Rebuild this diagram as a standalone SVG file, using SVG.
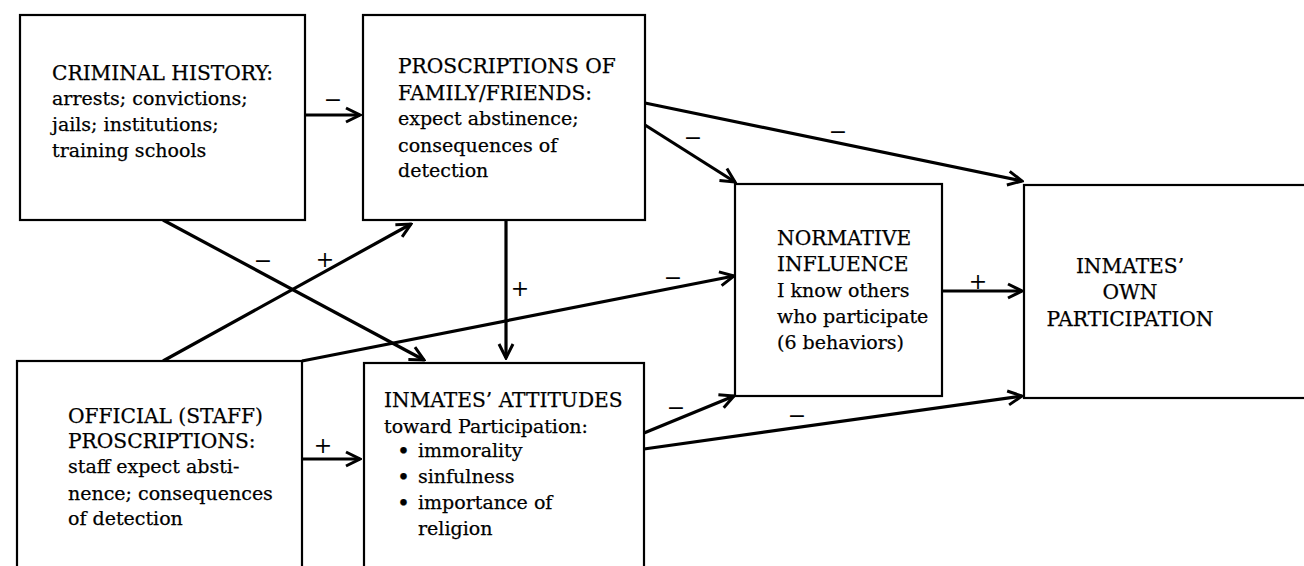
<svg xmlns="http://www.w3.org/2000/svg" width="1304" height="566" viewBox="0 0 1304 566">
<style>
.box{fill:#fff;stroke:#000;stroke-width:2.2}
.t{font-family:"DejaVu Serif","Liberation Serif",serif;font-size:19px;fill:#000;stroke:#000;stroke-width:0.25}
.u{font-size:20.2px}
.c{text-anchor:middle}
.b{font-size:22px}
.e{fill:none;stroke:#000;stroke-width:3.2}
.lab{font-family:"DejaVu Serif","Liberation Serif",serif;font-size:22px;fill:#000;text-anchor:middle}
</style>
<defs>
<marker id="ah" markerUnits="userSpaceOnUse" viewBox="0 0 18 18" refX="16" refY="9" markerWidth="18" markerHeight="18" orient="auto">
<path d="M2,2 L16,9 L2,16" fill="none" stroke="#000" stroke-width="3"/>
</marker>
</defs>
<rect width="1304" height="566" fill="#fff"/>
<g id="connectors">
<line class="e" x1="305" y1="115" x2="360" y2="115" marker-end="url(#ah)"/>
<line class="e" x1="645" y1="103" x2="1022" y2="181" marker-end="url(#ah)"/>
<line class="e" x1="645" y1="125" x2="735" y2="182" marker-end="url(#ah)"/>
<line class="e" x1="506" y1="220" x2="506" y2="358" marker-end="url(#ah)"/>
<line class="e" x1="163" y1="220" x2="424" y2="360" marker-end="url(#ah)"/>
<line class="e" x1="163" y1="361" x2="411" y2="224" marker-end="url(#ah)"/>
<line class="e" x1="302" y1="361" x2="734" y2="276" marker-end="url(#ah)"/>
<line class="e" x1="302" y1="459" x2="360" y2="459" marker-end="url(#ah)"/>
<line class="e" x1="644" y1="433" x2="734" y2="396" marker-end="url(#ah)"/>
<line class="e" x1="644" y1="449" x2="1022" y2="396" marker-end="url(#ah)"/>
<line class="e" x1="942" y1="291" x2="1022" y2="291" marker-end="url(#ah)"/>
<text class="lab" x="333" y="107">−</text>
<text class="lab" x="838" y="139">−</text>
<text class="lab" x="693" y="145">−</text>
<text class="lab" x="520" y="296">+</text>
<text class="lab" x="263" y="268">−</text>
<text class="lab" x="325" y="267">+</text>
<text class="lab" x="673" y="285">−</text>
<text class="lab" x="323" y="453">+</text>
<text class="lab" x="676" y="415">−</text>
<text class="lab" x="797" y="423">−</text>
<text class="lab" x="978" y="289">+</text>
</g>
<g id="criminal-history">
<rect class="box" x="20" y="15" width="285" height="205"/>
<text class="t u" x="52" y="80">CRIMINAL HISTORY:</text>
<text class="t" x="52" y="105">arrests; convictions;</text>
<text class="t" x="52" y="131">jails; institutions;</text>
<text class="t" x="52" y="157">training schools</text>
</g>
<g id="proscriptions-family">
<rect class="box" x="363" y="15" width="282" height="205"/>
<text class="t u" x="398" y="73">PROSCRIPTIONS OF</text>
<text class="t u" x="398" y="100">FAMILY/FRIENDS:</text>
<text class="t" x="398" y="125">expect abstinence;</text>
<text class="t" x="398" y="152">consequences of</text>
<text class="t" x="398" y="177">detection</text>
</g>
<g id="normative-influence">
<rect class="box" x="735" y="184" width="207" height="212"/>
<text class="t u" x="777" y="245">NORMATIVE</text>
<text class="t u" x="777" y="271">INFLUENCE</text>
<text class="t" x="777" y="297">I know others</text>
<text class="t" x="777" y="323">who participate</text>
<text class="t" x="777" y="349">(6 behaviors)</text>
</g>
<g id="own-participation">
<rect class="box" x="1024" y="185" width="300" height="213"/>
<text class="t u c" x="1130" y="273">INMATES’</text>
<text class="t u c" x="1130" y="299">OWN</text>
<text class="t u c" x="1130" y="326">PARTICIPATION</text>
</g>
<g id="official-proscriptions">
<rect class="box" x="17" y="361" width="285" height="220"/>
<text class="t u" x="68" y="423">OFFICIAL (STAFF)</text>
<text class="t u" x="68" y="448">PROSCRIPTIONS:</text>
<text class="t" x="68" y="473">staff expect absti-</text>
<text class="t" x="68" y="500">nence; consequences</text>
<text class="t" x="68" y="525">of detection</text>
</g>
<g id="inmates-attitudes">
<rect class="box" x="364" y="363" width="280" height="220"/>
<text class="t u" x="384" y="407">INMATES’ ATTITUDES</text>
<text class="t" x="384" y="433">toward Participation:</text>
<text class="t b" x="397" y="459">•</text>
<text class="t" x="418" y="457">immorality</text>
<text class="t b" x="397" y="485">•</text>
<text class="t" x="418" y="483">sinfulness</text>
<text class="t b" x="397" y="511">•</text>
<text class="t" x="418" y="509">importance of</text>
<text class="t" x="418" y="535">religion</text>
</g>
</svg>
